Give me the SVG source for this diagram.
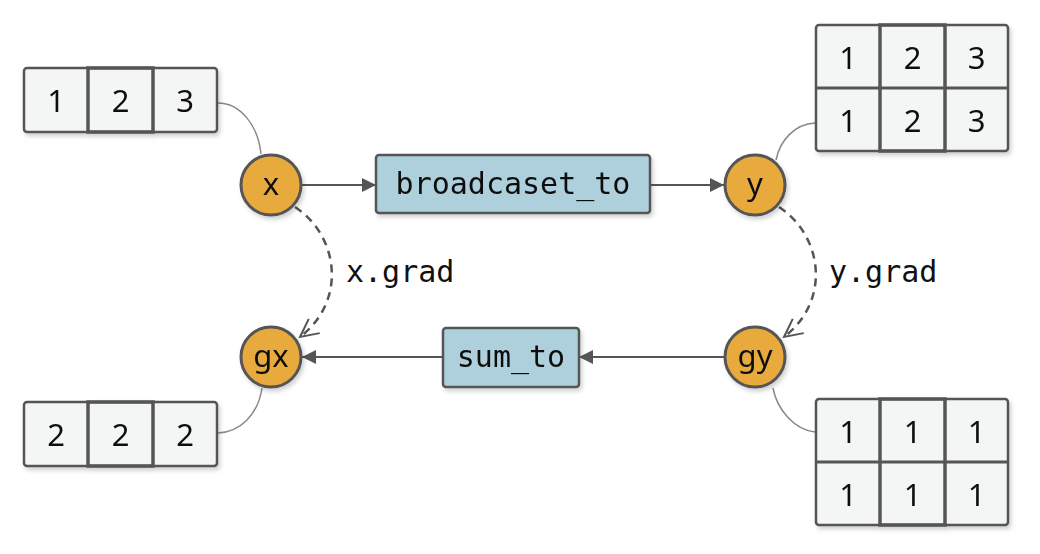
<svg xmlns="http://www.w3.org/2000/svg" width="1040" height="554" viewBox="0 0 1040 554">
<defs>
<filter id="sh" x="-20%" y="-20%" width="140%" height="150%">
<feDropShadow dx="2" dy="3" stdDeviation="2" flood-color="#000" flood-opacity="0.18"/>
</filter>
<marker id="fa" viewBox="0 0 14 14" refX="14" refY="7" markerWidth="14" markerHeight="14" markerUnits="userSpaceOnUse" orient="auto">
<path d="M0,0 L14,7 L0,14 Z" fill="#555"/>
</marker>
<marker id="oa" viewBox="0 0 22 22" refX="20" refY="11" markerWidth="22" markerHeight="22" markerUnits="userSpaceOnUse" orient="auto">
<path d="M2,2 L20,11 L2,20" fill="none" stroke="#555" stroke-width="2"/>
</marker>
</defs>
<style>
.cell{fill:#F4F6F6;stroke:#555;stroke-width:2.5}
.mid{fill:none;stroke:#555;stroke-width:3.5}
.num{font-family:"Noto Sans","Open Sans",sans-serif;font-size:31px;fill:#111;text-anchor:middle;dominant-baseline:central}
.circ{fill:#E8AA3E;stroke:#555;stroke-width:3}
.op{fill:#AED0DC;stroke:#555;stroke-width:2.5}
.mono{font-family:"DejaVu Sans Mono","Liberation Mono",monospace;font-size:30px;fill:#111}
.edge{fill:none;stroke:#555;stroke-width:2}
.link{fill:none;stroke:#888;stroke-width:1.5}
.dash{fill:none;stroke:#555;stroke-width:2.5;stroke-dasharray:8 6}
</style>

<g id="connectors">
<path class="link" d="M218,103 C240,103 258,125 261,154"/>
<path class="link" d="M776,160 C780,140 795,124 815,123"/>
<path class="link" d="M262,388 C258,415 240,432 218,433"/>
<path class="link" d="M773,388 C777,410 795,430 815,432"/>
<path class="edge" d="M302,185 L376,185" marker-end="url(#fa)"/>
<path class="edge" d="M650,185 L724,185" marker-end="url(#fa)"/>
<path class="edge" d="M443,357 L302,357" marker-end="url(#fa)"/>
<path class="edge" d="M724,357 L579,357" marker-end="url(#fa)"/>
<path class="dash" d="M295,207 C338,235 348,300 300,337" marker-end="url(#oa)"/>
<path class="dash" d="M779,207 C822,235 832,300 784,337" marker-end="url(#oa)"/>
<text class="mono" x="346" y="282">x.grad</text>
<text class="mono" x="829" y="282">y.grad</text>
</g>

<g id="arr_x" filter="url(#sh)">
<rect class="cell" x="24" y="68" width="193" height="64" rx="3"/>
<rect class="mid" x="88" y="68" width="65" height="64"/>
<text class="num" x="56" y="100">1</text>
<text class="num" x="120.5" y="100">2</text>
<text class="num" x="185" y="100">3</text>
</g>

<g id="arr_y" filter="url(#sh)">
<rect class="cell" x="816" y="25" width="192" height="126" rx="3"/>
<line x1="816" y1="88" x2="1008" y2="88" stroke="#555" stroke-width="3"/>
<rect class="mid" x="880" y="25" width="65" height="126"/>
<text class="num" x="848" y="56.5">1</text>
<text class="num" x="912.5" y="56.5">2</text>
<text class="num" x="976.5" y="56.5">3</text>
<text class="num" x="848" y="119.5">1</text>
<text class="num" x="912.5" y="119.5">2</text>
<text class="num" x="976.5" y="119.5">3</text>
</g>

<g id="arr_gx" filter="url(#sh)">
<rect class="cell" x="24" y="402" width="193" height="64" rx="3"/>
<rect class="mid" x="88" y="402" width="65" height="64"/>
<text class="num" x="56" y="434">2</text>
<text class="num" x="120.5" y="434">2</text>
<text class="num" x="185" y="434">2</text>
</g>

<g id="arr_gy" filter="url(#sh)">
<rect class="cell" x="816" y="399" width="192" height="126" rx="3"/>
<line x1="816" y1="462" x2="1008" y2="462" stroke="#555" stroke-width="3"/>
<rect class="mid" x="880" y="399" width="65" height="126"/>
<text class="num" x="848" y="430.5">1</text>
<text class="num" x="912.5" y="430.5">1</text>
<text class="num" x="976.5" y="430.5">1</text>
<text class="num" x="848" y="493.5">1</text>
<text class="num" x="912.5" y="493.5">1</text>
<text class="num" x="976.5" y="493.5">1</text>
</g>

<g id="x" filter="url(#sh)">
<circle class="circ" cx="271" cy="185" r="30"/>
<text class="num" x="271" y="183">x</text>
</g>
<g id="y" filter="url(#sh)">
<circle class="circ" cx="755" cy="185" r="30"/>
<text class="num" x="755" y="183">y</text>
</g>
<g id="gx" filter="url(#sh)">
<circle class="circ" cx="271" cy="357" r="30"/>
<text class="num" x="271" y="355">gx</text>
</g>
<g id="gy" filter="url(#sh)">
<circle class="circ" cx="755" cy="357" r="30"/>
<text class="num" x="755" y="355">gy</text>
</g>

<g id="broadcaset_to" filter="url(#sh)">
<rect class="op" x="376" y="155" width="274" height="58" rx="3"/>
<text class="mono" x="513" y="183" text-anchor="middle" dominant-baseline="central">broadcaset_to</text>
</g>
<g id="sum_to" filter="url(#sh)">
<rect class="op" x="443" y="328" width="136" height="59" rx="3"/>
<text class="mono" x="511" y="356" text-anchor="middle" dominant-baseline="central">sum_to</text>
</g>
</svg>
